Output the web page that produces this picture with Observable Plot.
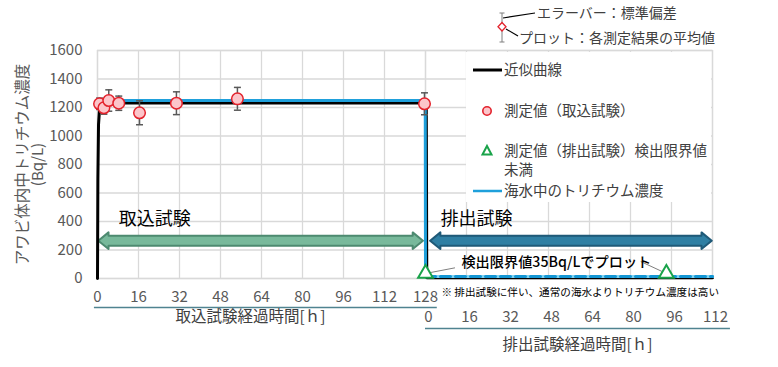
<!DOCTYPE html>
<html>
<head>
<meta charset="utf-8">
<script src="https://cdn.jsdelivr.net/npm/d3@7"></script>
<script src="https://cdn.jsdelivr.net/npm/@observablehq/plot@0.6"></script>
<style>
  html, body { margin:0; padding:0; background:#fff; }
  #chart { position:relative; width:778px; height:367px; font-family:"Noto Sans CJK JP","Noto Sans",sans-serif; }
  #chart svg.plot { position:absolute; left:0; top:0; }
  .ov { position:absolute; white-space:nowrap; color:#404040; font-size:14.5px; line-height:1; }
</style>
</head>
<body>
<div id="chart"></div>
<script>
// ---- data ----
const yTicks = [0, 200, 400, 600, 800, 1000, 1200, 1400, 1600];
const intakeTicks = [0, 16, 32, 48, 64, 80, 96, 112, 128];
const excretionTicks = [0, 16, 32, 48, 64, 80, 96, 112];
const intakeDuration = 128;

// intake test measurements (mean, SD)
const intakeTime = [0.8, 2.5, 4.4, 8.3, 16.4, 30.8, 54.6, 127.6];
const intakeMean = [1226, 1198, 1249, 1230, 1163, 1230, 1261, 1226];
const intakeSD   = [40, 45, 75, 50, 84, 80, 80, 77];

// excretion test: below detection limit, plotted at 35 Bq/L
const excretionTime = [0, 94];
const excretionValue = [35, 35];

// fitted curve
const fitTime = [0, 0.15, 0.4, 0.8, 1.5, 3, 128.3, 128.5, 240];
const fitConc = [0, 700, 1080, 1190, 1222, 1232, 1232, 6, 6];

// seawater tritium concentration
const seaTime = [0.8, 127.9, 128.0, 240];
const seaConc = [1250, 1250, 14, 14];

// phases
const phaseNames = ["取込試験", "排出試験"];
const phaseStart = [0.5, 130];
const phaseEnd = [127.2, 239.9];

// ---- derived tables ----
const intake = intakeTime.map((t, i) => ({t, m: intakeMean[i], sd: intakeSD[i]}));
const excretion = excretionTime.map((t, i) => ({t: t + intakeDuration, v: excretionValue[i]}));
const fit = fitTime.map((t, i) => ({t, c: fitConc[i]}));
const sea = seaTime.map((t, i) => ({t, c: seaConc[i]}));
const seaLow = sea.filter(d => d.t >= intakeDuration);
const gridX = [...intakeTicks, ...excretionTicks.map(d => d + intakeDuration)];

function arrowShape(s, e) {
  const c = 262, H = 58, B = 35, h = 4;
  return [
    {x: s, y1: c, y2: c},
    {x: s + h, y1: c - H, y2: c + H},
    {x: s + h, y1: c - B, y2: c + B},
    {x: e - h, y1: c - B, y2: c + B},
    {x: e - h, y1: c - H, y2: c + H},
    {x: e, y1: c, y2: c}
  ];
}
const arrowFills = ["#78b99b", "#2f7fa3"];
const arrowStrokes = ["#4d8a70", "#1f5a78"];
const labelDx = [20, 10];

const capSymbol = { draw(ctx, size) { const w = 3.5; ctx.moveTo(-w, 0); ctx.lineTo(w, 0); } };

const font = "Noto Sans CJK JP";
const gray = "#595959";

const plot = Plot.plot({
  width: 778, height: 367,
  marginLeft: 97, marginRight: 66, marginTop: 50, marginBottom: 89,
  x: {domain: [0, 240], axis: null},
  y: {domain: [0, 1600], ticks: yTicks, tickSize: 0, tickPadding: 15, label: null, tickFormat: d => String(d)},
  style: {fontFamily: font, fontSize: "15px", color: gray, background: "transparent", overflow: "visible"},
  marks: [
    Plot.ruleY(yTicks, {stroke: "#d9d9d9", strokeWidth: 1.3}),
    Plot.ruleX(gridX, {stroke: "#d9d9d9", strokeWidth: 1.3}),
    Plot.frame({stroke: "#d9d9d9", strokeWidth: 1.3}),
    // arrows
    ...phaseNames.map((n, i) => Plot.area(arrowShape(phaseStart[i], phaseEnd[i]),
      {x1: "x", y1: "y1", y2: "y2", curve: "linear", fill: arrowFills[i], stroke: arrowStrokes[i], strokeWidth: 2})),
    // fitted curve
    Plot.line(fit, {x: "t", y: "c", stroke: "#000", strokeWidth: 3, curve: "linear"}),
    // seawater
    Plot.line(sea, {x: "t", y: "c", stroke: "#1fa0db", strokeWidth: 3, curve: "linear"}),
    Plot.line(seaLow, {x: "t", y: "c", stroke: "#7fd3f2", strokeWidth: 3}),
    Plot.line(seaLow, {x: "t", y: "c", stroke: "#1396d4", strokeWidth: 3, strokeDasharray: "10,5"}),
    // error bars
    Plot.ruleX(intake, {x: "t", y1: d => d.m - d.sd, y2: d => d.m + d.sd, stroke: gray, strokeWidth: 1.5}),
    Plot.dot(intake, {x: "t", y: d => d.m - d.sd, symbol: capSymbol, stroke: gray, strokeWidth: 1.5, r: 3}),
    Plot.dot(intake, {x: "t", y: d => d.m + d.sd, symbol: capSymbol, stroke: gray, strokeWidth: 1.5, r: 3}),
    // intake points
    Plot.dot(intake, {x: "t", y: "m", r: 5.8, fill: "#fcc5ca", stroke: "#e3222c", strokeWidth: 1.5}),
    // leader lines to detection-limit note
    Plot.link(excretion, {x1: "t", y1: "v", x2: (d, i) => d.t + (i === 0 ? 11.5 : -10), y2: (d, i) => d.v + (i === 0 ? 40 : 84),
      stroke: "#7f7f7f", strokeWidth: 1}),
    // excretion points
    Plot.dot(excretion, {x: "t", y: "v", symbol: "triangle", r: 5.5, fill: "#fff", stroke: "#1aa34a", strokeWidth: 2}),
    // phase labels
    ...phaseNames.map((n, i) => Plot.text([n], {x: phaseStart[i], y: 262, dy: -22, dx: labelDx[i], text: d => d, textAnchor: "start",
      fill: "#000", fontSize: 18, fontFamily: font})),
    Plot.text(["検出限界値35Bq/Lでプロット"], {x: intakeDuration + 14, y: 35, dy: -11, text: d => d, textAnchor: "start",
      fill: "#000", fontSize: 14.2, fontWeight: 500, fontFamily: font}),
    Plot.text(["※ 排出試験に伴い、通常の海水よりトリチウム濃度は高い"], {x: intakeDuration + 6.2, frameAnchor: "bottom", dy: 17,
      text: d => d, textAnchor: "start", fill: "#000", fontSize: 10.6, fontFamily: font}),
    // x tick labels (two rows)
    Plot.text(intakeTicks, {x: d => d, frameAnchor: "bottom", dy: 23, text: d => String(d), fill: gray, fontSize: 15, fontFamily: font}),
    Plot.text(excretionTicks, {x: d => d + intakeDuration, frameAnchor: "bottom", dy: 43, dx: 3, text: d => String(d), fill: gray, fontSize: 15, fontFamily: font}),
    Plot.ruleY([0], {x1: -1.2, x2: 132.6, dy: 29, stroke: "#4f8390", strokeWidth: 1.3}),
    Plot.ruleY([0], {x1: intakeDuration, x2: 247, dy: 50, stroke: "#4f8390", strokeWidth: 1.3}),
    Plot.text(["取込試験経過時間[ｈ]"], {x: 59.7, frameAnchor: "bottom", dy: 43, text: d => d, fill: "#404040", fontSize: 15.5, fontFamily: font}),
    Plot.text(["排出試験経過時間[ｈ]"], {x: 187.3, frameAnchor: "bottom", dy: 71, text: d => d, fill: "#404040", fontSize: 15.5, fontFamily: font}),
    // y-axis title
    Plot.text(["アワビ体内中トリチウム濃度"], {frameAnchor: "left", dx: -74, rotate: -90, textAnchor: "middle", text: d => d, fill: gray, fontSize: 15.5, fontFamily: font}),
    Plot.text(["(Bq/L)"], {frameAnchor: "left", dx: -59, rotate: -90, textAnchor: "middle", text: d => d, fill: gray, fontSize: 15, fontFamily: font})
  ]
});
plot.classList.add("plot");
const chart = document.getElementById("chart");
chart.appendChild(plot);

// ---- legend & top annotation overlay ----
const ov = document.createElement("div");
ov.innerHTML = `
<div style="position:absolute;left:466px;top:52px;width:245px;height:150px;background:#fff;"></div>
<svg style="position:absolute;left:0;top:0;overflow:visible" width="778" height="367">
  <line x1="473" x2="502" y1="70" y2="70" stroke="#000" stroke-width="3"/>
  <circle cx="487" cy="111" r="4.2" fill="#fcc5ca" stroke="#e3222c" stroke-width="1.6"/>
  <path d="M487,146 L491.5,154.5 L482.5,154.5 Z" fill="#fff" stroke="#1aa34a" stroke-width="2"/>
  <line x1="473" x2="502" y1="191" y2="191" stroke="#1fa0db" stroke-width="2.5"/>
  <line x1="502" x2="502" y1="13" y2="42" stroke="#7f7f7f" stroke-width="1"/>
  <line x1="499.5" x2="504.5" y1="13" y2="13" stroke="#7f7f7f" stroke-width="1"/>
  <line x1="499.5" x2="504.5" y1="42" y2="42" stroke="#7f7f7f" stroke-width="1"/>
  <path d="M502,22.5 L506,26.8 L502,31 L498,26.8 Z" fill="#fff" stroke="#e3222c" stroke-width="1.3"/>
  <line x1="503" y1="18" x2="535" y2="13" stroke="#000" stroke-width="1.2"/>
  <line x1="506" y1="29" x2="518" y2="36" stroke="#000" stroke-width="1.2"/>
</svg>
<div class="ov" style="left:504px;top:62px;">近似曲線</div>
<div class="ov" style="left:504px;top:103px;">測定値（取込試験）</div>
<div class="ov" style="left:504px;top:143px;">測定値（排出試験）検出限界値</div>
<div class="ov" style="left:504px;top:162px;">未満</div>
<div class="ov" style="left:504px;top:183px;">海水中のトリチウム濃度</div>
<div class="ov" style="left:537px;top:5px;font-size:14px;">エラーバー：標準偏差</div>
<div class="ov" style="left:519px;top:30px;font-size:14px;">プロット：各測定結果の平均値</div>
`;
while (ov.firstChild) chart.appendChild(ov.firstChild);
</script>
</body>
</html>
